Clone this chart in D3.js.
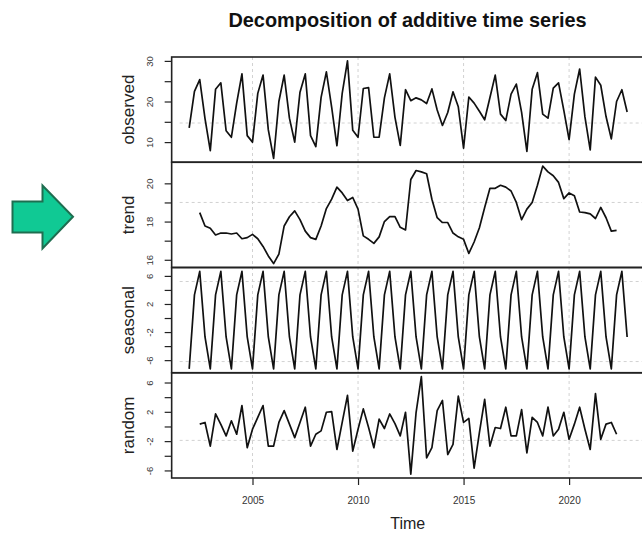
<!DOCTYPE html>
<html><head><meta charset="utf-8">
<script src="https://cdn.jsdelivr.net/npm/d3@7"></script>
<style>html,body{margin:0;padding:0;background:#fff}svg{display:block}</style>
</head><body>
<svg id="chart" width="642" height="533"></svg>
<script>
// ---- data (quarterly, 2002 Q1 – 2022 Q4) ----
const startYear = 2002;
const frequency = 4;
const observed = [13.5,22.5,25.4,15.8, 7.9,23.0,24.6,12.8, 11.2,19.6,26.8,11.6, 10.0,22.0,26.5,13.0,
  6.0,20.0,26.5,15.9, 10.0,22.3,26.8,11.6, 8.9,21.0,27.3,18.6, 9.1,22.0,30.0,12.9,
  11.2,23.2,23.4,11.2, 11.2,20.9,26.8,16.1, 9.2,22.9,20.2,20.9, 20.4,19.5,23.1,17.9,
  14.1,17.3,22.4,18.7, 8.5,21.1,19.6,17.6, 15.5,21.0,26.5,16.9, 15.3,21.8,24.3,17.3,
  7.7,23.0,27.1,16.9, 15.9,23.3,24.6,17.8, 10.6,21.8,28.0,16.2, 8.1,26.0,24.0,16.3,
  10.8,20.0,22.9,17.4];
const trend = [null,null,18.47,17.77, 17.65,17.3,17.4,17.4, 17.35,17.4,17.1,17.16, 17.33,17.1,16.7,16.2,
  15.8,16.3,17.77,18.25, 18.56,18.1,17.5,17.16, 17.07,17.77,18.68,19.17, 19.8,19.5,19.1,19.26,
  18.65,17.25,17.07,16.86, 17.2,18.0,18.26,18.26, 17.7,17.56,20.2,20.67, 20.6,20.5,19.17,18.2,
  17.95,17.95,17.4,17.2, 17.07,16.33,16.93,17.68, 18.74,19.74,19.74,19.9, 19.8,19.6,19.0,18.1,
  18.65,19.0,19.9,20.9, 20.6,20.4,20.05,19.2, 19.5,19.35,18.5,18.47, 18.4,18.16,18.74,18.2,
  17.5,17.54,null,null];
const seasonal = [-7.24,3.3,6.64,-2.7, -7.24,3.3,6.64,-2.7, -7.24,3.3,6.64,-2.7, -7.24,3.3,6.64,-2.7,
  -7.24,3.3,6.64,-2.7, -7.24,3.3,6.64,-2.7, -7.24,3.3,6.64,-2.7, -7.24,3.3,6.64,-2.7,
  -7.24,3.3,6.64,-2.7, -7.24,3.3,6.64,-2.7, -7.24,3.3,6.64,-2.7, -7.24,3.3,6.64,-2.7,
  -7.24,3.3,6.64,-2.7, -7.24,3.3,6.64,-2.7, -7.24,3.3,6.64,-2.7, -7.24,3.3,6.64,-2.7,
  -7.24,3.3,6.64,-2.7, -7.24,3.3,6.64,-2.7, -7.24,3.3,6.64,-2.7, -7.24,3.3,6.64,-2.7,
  -7.24,3.3,6.64,-2.7];
const random = [null,null,0.32,0.55, -2.68,1.71,0.3,-1.29, 0.78,-1.06,2.86,-2.9, -0.37,1.25,2.86,-2.68,
  -2.68,0.55,2.17,0.32, -1.52,0.55,2.63,-2.68, -1.06,-0.6,1.94,2.03, -3.14,0.55,4.25,-3.37,
  -0.37,2.4,-0.14,-2.9, 1.0,-0.28,1.71,0.4, -1.29,1.94,-6.5,1.9, 6.8,-4.3,-2.9,2.17,
  3.55,-3.83,-2.45,4.15, 0.55,1.1,-5.68,-0.83, 3.69,-2.68,-0.14,-0.28, 2.63,-1.29,-1.29,2.3,
  -3.6,1.25,0.55,-1.29, 2.63,-1.29,-0.37,1.94, -1.75,0.32,2.63,-0.37, -3.14,4.48,-1.75,0.32,
  0.55,-1.06,null,null];
const panelNames = ["observed","trend","seasonal","random"];
const xTicks = [2005, 2010, 2015, 2020];
const observedTicks = [10,15,20,25,30], observedLabels = [10,20,30];
const trendTicks = [16,17,18,19,20], trendLabels = [16,18,20];
const seasonalTicks = [-6,-4,-2,0,2,4,6], seasonalLabels = [-6,-2,2,6];
const randomTicks = [-6,-4,-2,0,2,4,6], randomLabels = [-6,-2,2,6];
// light dashed reference lines seen in the picture (data units)
const observedRefs = [14.7], trendRefs = [19.0], seasonalRefs = [5.2,-6.2], randomRefs = [-1.9];
const titleText = "Decomposition of additive time series";
const xLabel = "Time";

// ---- layout ----
const svg = d3.select("#chart");
const font = "'Liberation Sans', Arial, Helvetica, sans-serif";
const time = observed.map((d,i) => startYear + i / frequency);
const x = d3.scaleLinear().domain([2005, 2020]).range([252.5, 569.1]);
const xr = d3.extent(time), xpad = (xr[1]-xr[0])*0.04;
const frameL = x(xr[0]-xpad), frameR = x(xr[1]+xpad);
const topY = 57, panelH = 105.25;

// green arrow (decoration)
svg.append("path")
  .attr("d","M12.5,201.5 L42.5,201.5 L42.5,185.5 L73,216.8 L42.5,248.5 L42.5,232.5 L12.5,232.5 Z")
  .attr("fill","#10c994").attr("stroke","#1e6e50").attr("stroke-width",2).attr("stroke-linejoin","miter");

svg.append("text").attr("x",407.5).attr("y",27).attr("text-anchor","middle")
  .attr("font-family",font).attr("font-weight","bold").attr("font-size",19.9).attr("fill","#111")
  .text(titleText);

const panels = [
  {name:panelNames[0], data:observed, ticks:observedTicks, labels:observedLabels, refs:observedRefs},
  {name:panelNames[1], data:trend, ticks:trendTicks, labels:trendLabels, refs:trendRefs},
  {name:panelNames[2], data:seasonal, ticks:seasonalTicks, labels:seasonalLabels, refs:seasonalRefs},
  {name:panelNames[3], data:random, ticks:randomTicks, labels:randomLabels, refs:randomRefs}
];

const gridColor = "#d2d2d2";
svg.append("g").selectAll("line").data(xTicks).join("line")
  .attr("x1",d=>x(d)).attr("x2",d=>x(d)).attr("y1",topY).attr("y2",topY+4*panelH)
  .attr("stroke",gridColor).attr("stroke-width",1).attr("stroke-dasharray","3,3");

panels.forEach((p,k) => {
  const y0 = topY + k*panelH, y1 = y0 + panelH;
  const ext = d3.extent(p.data.filter(d=>d!=null)), pad = (ext[1]-ext[0])*0.04;
  const y = d3.scaleLinear().domain([ext[0]-pad, ext[1]+pad]).range([y1, y0]);
  const g = svg.append("g");
  g.selectAll("line.ref").data(p.refs).join("line").attr("class","ref")
    .attr("x1",frameL+8).attr("x2",frameR).attr("y1",d=>y(d)).attr("y2",d=>y(d))
    .attr("stroke",gridColor).attr("stroke-width",1).attr("stroke-dasharray","3,3");
  const line = d3.line().defined(d=>d!=null).x((d,i)=>x(time[i])).y(d=>y(d));
  g.append("path").datum(p.data).attr("d",line).attr("fill","none")
    .attr("stroke","#111").attr("stroke-width",1.7).attr("stroke-linejoin","round");
  g.append("rect").attr("x",frameL).attr("y",y0).attr("width",frameR-frameL).attr("height",panelH)
    .attr("fill","none").attr("stroke","#222").attr("stroke-width",1.6);
  const ax = d3.axisLeft(y).tickValues(p.ticks).tickSize(7)
    .tickFormat(d => p.labels.includes(d) ? d : "");
  const ag = g.append("g").attr("transform",`translate(${frameL},0)`).call(ax);
  ag.select(".domain").remove();
  ag.selectAll(".tick line").attr("stroke","#222").attr("stroke-width",1.2);
  ag.selectAll(".tick text").attr("transform","rotate(-90)").attr("x",0).attr("y",-18.5)
    .attr("dy",null).attr("text-anchor","middle").attr("font-size",9.5).attr("font-family",font).attr("fill","#333");
  g.append("text").attr("transform",`translate(133.5,${(y0+y1)/2}) rotate(-90)`)
    .attr("text-anchor","middle").attr("font-family",font).attr("font-size",17).attr("fill","#222")
    .text(p.name);
});

const xb = topY + 4*panelH;
const xa = svg.append("g").attr("transform",`translate(0,${xb})`)
  .call(d3.axisBottom(x).tickValues(xTicks).tickSize(7).tickFormat(d3.format("d")));
xa.select(".domain").remove();
xa.selectAll(".tick line").attr("stroke","#222").attr("stroke-width",1.2);
xa.selectAll(".tick text").attr("y",26).attr("dy",null).attr("font-size",10).attr("font-family",font).attr("fill","#333");
svg.append("text").attr("x",407.7).attr("y",529).attr("text-anchor","middle")
  .attr("font-family",font).attr("font-size",16).attr("fill","#222").text(xLabel);
</script>
</body></html>
